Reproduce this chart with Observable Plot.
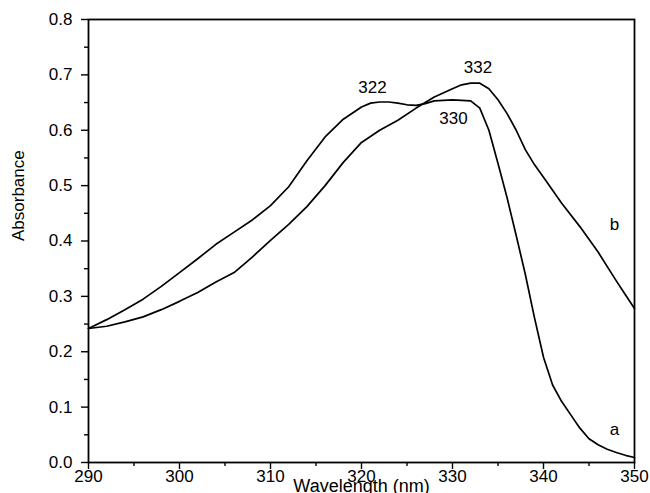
<!DOCTYPE html>
<html>
<head>
<meta charset="utf-8">
<script src="https://cdn.jsdelivr.net/npm/d3@7"></script>
<script src="https://cdn.jsdelivr.net/npm/@observablehq/plot@0.6"></script>
<style>
  html, body { margin: 0; padding: 0; background: #fff; }
  #chart { width: 650px; height: 493px; overflow: hidden; }
</style>
</head>
<body>
<div id="chart"></div>
<script>
// Curve a (peak 322, shoulder 330)
const wavelengthA = [290,292,294,296,298,300,302,304,306,308,310,312,314,316,318,320,321,322,323,324,325,326,327,328,330,332,333,334,335,336,337,338,339,340,341,342,343,344,345,346,347,348,349,350];
const absorbanceA = [0.242,0.258,0.276,0.295,0.318,0.343,0.368,0.394,0.416,0.438,0.464,0.498,0.545,0.588,0.620,0.642,0.649,0.651,0.651,0.649,0.646,0.645,0.648,0.653,0.655,0.653,0.640,0.600,0.540,0.478,0.410,0.340,0.262,0.190,0.140,0.110,0.086,0.062,0.043,0.032,0.024,0.018,0.013,0.009];
// Curve b (peak 332)
const wavelengthB = [290,292,294,296,298,300,302,304,306,308,310,312,314,316,318,320,322,324,326,328,330,331,332,333,334,335,336,337,338,339,340,342,344,346,348,349,350];
const absorbanceB = [0.242,0.246,0.254,0.263,0.276,0.291,0.307,0.326,0.343,0.371,0.401,0.430,0.462,0.500,0.542,0.578,0.600,0.618,0.640,0.660,0.675,0.682,0.685,0.685,0.675,0.655,0.630,0.600,0.565,0.538,0.515,0.468,0.426,0.380,0.328,0.303,0.278];
// Annotations
const noteText = ["322", "332", "330", "a", "b"];
const noteX = [321.2, 332.8, 330.1, 347.8, 347.8];
const noteY = [0.678, 0.714, 0.621, 0.060, 0.430];
// Ticks
const xMajor = [290, 300, 310, 320, 330, 340, 350];
const xMinor = [295, 305, 315, 325, 335, 345];
const yMajor = [0, 0.1, 0.2, 0.3, 0.4, 0.5, 0.6, 0.7, 0.8];
const yMinor = [0.05, 0.15, 0.25, 0.35, 0.45, 0.55, 0.65, 0.75];

const seriesA = wavelengthA.map((w, i) => ({w, v: absorbanceA[i]}));
const seriesB = wavelengthB.map((w, i) => ({w, v: absorbanceB[i]}));
const notes = noteText.map((t, i) => ({t, w: noteX[i], v: noteY[i]}));
const fmtY = d3.format(".1f");
const fmtX = d3.format("d");

const chart = Plot.plot({
  width: 650,
  height: 493,
  marginLeft: 88,
  marginRight: 16,
  marginTop: 19,
  marginBottom: 31,
  style: {fontFamily: "'Liberation Sans', Arial, sans-serif", color: "#000", background: "#fff"},
  x: {domain: [290, 350]},
  y: {domain: [0, 0.8]},
  marks: [
    Plot.axisX({ticks: xMinor, tickSize: 4, tickFormat: () => "", label: null, strokeWidth: 1.4}),
    Plot.axisX({ticks: xMajor, tickSize: 7, tickFormat: () => "", label: null, strokeWidth: 1.4}),
    Plot.axisY({ticks: yMinor, tickSize: 4, tickFormat: () => "", label: null, strokeWidth: 1.4}),
    Plot.axisY({ticks: yMajor, tickSize: 7, tickFormat: () => "", label: null, strokeWidth: 1.4}),
    // tick labels as text marks positioned through the scales
    Plot.text(xMajor, {x: d => d, y: () => 0, text: d => fmtX(d), lineAnchor: "top", dy: 7, fontSize: 17, fill: "#000"}),
    Plot.text(yMajor, {x: () => 290, y: d => d, text: d => fmtY(d), textAnchor: "end", dx: -16, fontSize: 17, fill: "#000"}),
    Plot.frame({stroke: "#000", strokeWidth: 1.8}),
    Plot.line(seriesA, {x: "w", y: "v", stroke: "#000", strokeWidth: 1.7}),
    Plot.line(seriesB, {x: "w", y: "v", stroke: "#000", strokeWidth: 1.7}),
    Plot.text(notes, {x: "w", y: "v", text: "t", fontSize: 17, fill: "#000"}),
    Plot.text(["Absorbance"], {frameAnchor: "left", dx: -70, rotate: -90, fontSize: 17, fill: "#000"}),
    Plot.text(["Wavelength (nm)"], {frameAnchor: "bottom", dy: 29, fontSize: 18, fill: "#000"})
  ]
});
document.getElementById("chart").appendChild(chart);
</script>
</body>
</html>
